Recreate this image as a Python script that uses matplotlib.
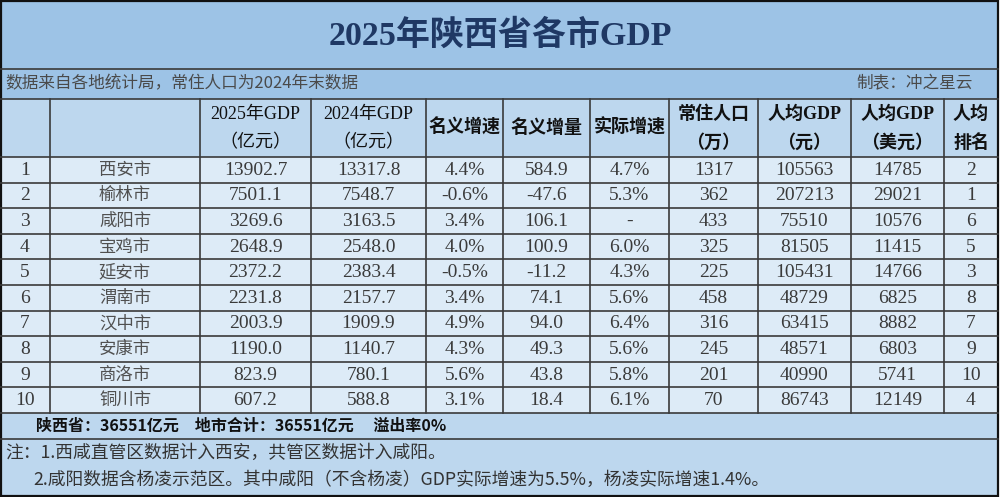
import matplotlib
matplotlib.use("Agg")
import matplotlib.pyplot as plt
from matplotlib.patches import Rectangle

TITLE = "2025年陕西省各市GDP"
SOURCE_NOTE = "数据来自各地统计局，常住人口为2024年末数据"
AUTHOR_NOTE = "制表：冲之星云"

HEADERS = [
    ("", ""),
    ("", ""),
    ("2025年GDP", "（亿元）"),
    ("2024年GDP", "（亿元）"),
    ("名义增速", None),
    ("名义增量", None),
    ("实际增速", None),
    ("常住人口", "（万）"),
    ("人均GDP", "（元）"),
    ("人均GDP", "（美元）"),
    ("人均", "排名"),
]

CITIES = ["西安市", "榆林市", "咸阳市", "宝鸡市", "延安市",
          "渭南市", "汉中市", "安康市", "商洛市", "铜川市"]
GDP_2025 = [13902.7, 7501.1, 3269.6, 2648.9, 2372.2, 2231.8, 2003.9, 1190.0, 823.9, 607.2]
GDP_2024 = [13317.8, 7548.7, 3163.5, 2548.0, 2383.4, 2157.7, 1909.9, 1140.7, 780.1, 588.8]
NOMINAL_GROWTH = [4.4, -0.6, 3.4, 4.0, -0.5, 3.4, 4.9, 4.3, 5.6, 3.1]
NOMINAL_INC = [584.9, -47.6, 106.1, 100.9, -11.2, 74.1, 94.0, 49.3, 43.8, 18.4]
REAL_GROWTH = [4.7, 5.3, None, 6.0, 4.3, 5.6, 6.4, 5.6, 5.8, 6.1]
POPULATION = [1317, 362, 433, 325, 225, 458, 316, 245, 201, 70]
PER_CAPITA_CNY = [105563, 207213, 75510, 81505, 105431, 48729, 63415, 48571, 40990, 86743]
PER_CAPITA_USD = [14785, 29021, 10576, 11415, 14766, 6825, 8882, 6803, 5741, 12149]
PER_CAPITA_RANK = [2, 1, 6, 5, 3, 8, 7, 9, 10, 4]

TOTAL_LINE = "陕西省：36551亿元　地市合计：36551亿元　 溢出率0%"
NOTE_1 = "注：1.西咸直管区数据计入西安，共管区数据计入咸阳。"
NOTE_2 = "2.咸阳数据含杨凌示范区。其中咸阳（不含杨凌）GDP实际增速为5.5%，杨凌实际增速1.4%。"

# ---- layout (pixel units of the 1000x497 canvas) ----
COL_EDGES = [0, 50, 200, 311, 426, 503, 590, 669, 758, 851, 944, 998]
TITLE_BOTTOM = 69
SUB_BOTTOM = 99
HEAD_BOTTOM = 157
ROW_H = 25.6
TOTAL_H = 26
BOTTOM = 496

C_TITLE = "#9DC3E6"
C_HEAD = "#BDD7EE"
C_ROW = "#DDEBF7"
C_LINE = "#3a3a3a"

SERIF = ["Liberation Serif", "Noto Sans CJK SC"]
SANS = ["Noto Sans CJK SC", "DejaVu Sans"]


def pct(v):
    return "-" if v is None else f"{v:.1f}%"


def main():
    fig = plt.figure(figsize=(10, 4.97), dpi=100)
    ax = fig.add_axes([0, 0, 1, 1])
    ax.set_xlim(0, 1000)
    ax.set_ylim(497, 0)
    ax.axis("off")

    n = len(CITIES)
    rows_bottom = HEAD_BOTTOM + n * ROW_H
    total_bottom = rows_bottom + TOTAL_H
    right = COL_EDGES[-1]

    # backgrounds
    ax.add_patch(Rectangle((0, 0), right, SUB_BOTTOM, color=C_TITLE, lw=0))
    ax.add_patch(Rectangle((0, SUB_BOTTOM), right, HEAD_BOTTOM - SUB_BOTTOM, color=C_HEAD, lw=0))
    ax.add_patch(Rectangle((0, HEAD_BOTTOM), right, rows_bottom - HEAD_BOTTOM, color=C_ROW, lw=0))
    ax.add_patch(Rectangle((0, rows_bottom), right, BOTTOM - rows_bottom, color=C_HEAD, lw=0))

    # title and notes
    ax.text(500, 36, TITLE, ha="center", va="center", fontsize=24.5, fontweight="bold",
            color="#1F3864", family=SERIF)
    ax.text(5, 84, SOURCE_NOTE, ha="left", va="center", fontsize=12, color="#4a4a4a", family=SANS)
    ax.text(973, 84, AUTHOR_NOTE, ha="right", va="center", fontsize=12, color="#4a4a4a", family=SANS)

    # horizontal lines
    for y in [TITLE_BOTTOM, SUB_BOTTOM, HEAD_BOTTOM]:
        ax.plot([0, right], [y, y], color=C_LINE, lw=1.2)
    for i in range(1, n + 1):
        y = HEAD_BOTTOM + i * ROW_H
        ax.plot([0, right], [y, y], color=C_LINE, lw=1.2)
    ax.plot([0, right], [total_bottom, total_bottom], color=C_LINE, lw=1.2)

    # vertical lines
    for x in COL_EDGES[1:-1]:
        ax.plot([x, x], [SUB_BOTTOM, rows_bottom], color=C_LINE, lw=1.2)

    # outer border
    ax.add_patch(Rectangle((0.5, 0.5), right - 0.5, BOTTOM - 0.5, fill=False, ec="#111111", lw=1.6))

    # headers
    centers = [(a + b) / 2 for a, b in zip(COL_EDGES[:-1], COL_EDGES[1:])]
    for j, (l1, l2) in enumerate(HEADERS):
        if not l1:
            continue
        weight = "normal" if j in (2, 3) else "bold"
        if l2 is None:
            ax.text(centers[j], 128, l1, ha="center", va="center", fontsize=13,
                    fontweight=weight, color="#111111", family=SERIF)
        else:
            ax.text(centers[j], 114, l1, ha="center", va="center", fontsize=13,
                    fontweight=weight, color="#111111", family=SERIF)
            ax.text(centers[j], 143, l2, ha="center", va="center", fontsize=13,
                    fontweight=weight, color="#111111", family=SERIF)

    # body cells
    for i in range(n):
        yc = HEAD_BOTTOM + (i + 0.5) * ROW_H
        cells = [
            str(i + 1),
            CITIES[i],
            f"{GDP_2025[i]:.1f}",
            f"{GDP_2024[i]:.1f}",
            pct(NOMINAL_GROWTH[i]),
            f"{NOMINAL_INC[i]:.1f}",
            pct(REAL_GROWTH[i]),
            str(POPULATION[i]),
            str(PER_CAPITA_CNY[i]),
            str(PER_CAPITA_USD[i]),
            str(PER_CAPITA_RANK[i]),
        ]
        for j, txt in enumerate(cells):
            if j == 1:
                ax.text(centers[j], yc, txt, ha="center", va="center", fontsize=12.5,
                        color="#505050", family=SANS)
            else:
                ax.text(centers[j], yc + 0.5, txt, ha="center", va="center", fontsize=14,
                        color="#3a3a3a", family=SERIF)

    # total row and notes
    ax.text(36, rows_bottom + TOTAL_H / 2, TOTAL_LINE, ha="left", va="center", fontsize=11.5,
            fontweight="bold", color="#111111", family=SANS)
    ax.text(5, 453, NOTE_1, ha="left", va="center", fontsize=12.8, color="#333333", family=SANS)
    ax.text(33, 480, NOTE_2, ha="left", va="center", fontsize=12.8, color="#333333", family=SANS)

    fig.savefig("out.png", dpi=100, facecolor="white")
    plt.close(fig)


if __name__ == "__main__":
    main()
